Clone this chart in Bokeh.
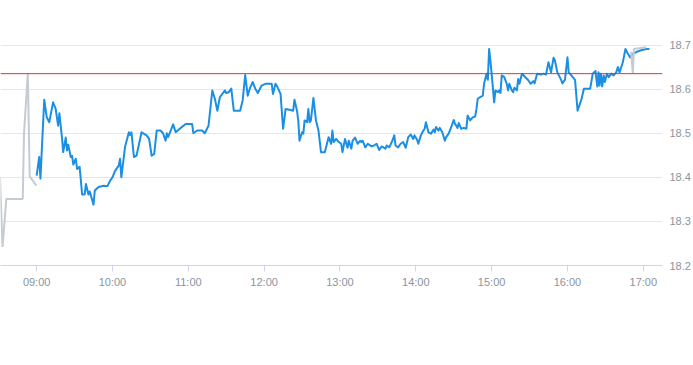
import pandas as pd
from bokeh.plotting import figure
from bokeh.models import Span, FixedTicker, PrintfTickFormatter, DatetimeTickFormatter, Range1d
from bokeh.embed import file_html
from bokeh.resources import INLINE

DAY = "2024-01-02 "

# ---- data ----
pre_times = ["08:31", "08:33", "08:36", "08:49", "08:50", "08:53", "08:54:30", "08:59:48"]
pre_prices = [18.400, 18.242, 18.351, 18.351, 18.499, 18.636, 18.402, 18.381]

session_times = [
    "09:00", "09:02", "09:03", "09:06", "09:08", "09:10", "09:13", "09:15", "09:17", "09:18",
    "09:20", "09:21", "09:23", "09:24", "09:25", "09:27", "09:28", "09:29", "09:31", "09:32",
    "09:34", "09:36", "09:38", "09:39", "09:41", "09:42", "09:45", "09:46", "09:49", "09:53",
    "09:56", "09:58", "10:00", "10:02", "10:05", "10:06", "10:07", "10:10", "10:13", "10:14",
    "10:15", "10:17", "10:19", "10:23", "10:27", "10:29", "10:31", "10:33", "10:35", "10:38",
    "10:40", "10:42", "10:43", "10:44", "10:46", "10:48", "10:50", "10:54", "10:58", "11:03",
    "11:04", "11:07", "11:11", "11:13", "11:16", "11:19", "11:21", "11:23", "11:25", "11:29",
    "11:30", "11:32", "11:34", "11:36", "11:41", "11:43", "11:45", "11:47", "11:49", "11:51",
    "11:53", "11:55", "11:58", "12:01", "12:06", "12:07", "12:09", "12:10", "12:13", "12:15",
    "12:17", "12:20", "12:23", "12:24", "12:26", "12:27", "12:28", "12:30", "12:31", "12:32",
    "12:34", "12:35", "12:36", "12:37", "12:39", "12:41", "12:43", "12:45", "12:48", "12:49",
    "12:51", "12:53", "12:54", "12:55", "12:57", "12:59", "13:01", "13:02", "13:04", "13:06",
    "13:07", "13:09", "13:10", "13:12", "13:14", "13:16", "13:17", "13:18", "13:20", "13:22",
    "13:25", "13:27", "13:29", "13:31", "13:33", "13:36", "13:37", "13:39", "13:41", "13:43",
    "13:44", "13:46", "13:48", "13:50", "13:52", "13:54", "13:56", "13:58", "13:59", "14:01",
    "14:02", "14:04", "14:06", "14:07", "14:08", "14:10", "14:12", "14:14", "14:15", "14:16",
    "14:18", "14:19", "14:21", "14:23", "14:24", "14:26", "14:28", "14:30", "14:31", "14:32",
    "14:33", "14:34", "14:36", "14:38", "14:40", "14:41", "14:43", "14:45", "14:47", "14:48",
    "14:49", "14:51", "14:53", "14:54", "14:56", "14:57", "14:58", "14:59", "15:00", "15:02",
    "15:03", "15:05", "15:06", "15:07", "15:08", "15:10", "15:12", "15:13", "15:14", "15:16",
    "15:17", "15:18", "15:20", "15:21", "15:22", "15:24", "15:26", "15:29", "15:31", "15:33",
    "15:34", "15:36", "15:39", "15:41", "15:43", "15:45", "15:47", "15:49", "15:50", "15:52",
    "15:55", "15:56", "15:58", "16:00", "16:01", "16:06", "16:08", "16:11", "16:13", "16:18",
    "16:20", "16:22:12", "16:23:36", "16:24:36", "16:25:24", "16:26:24", "16:27:30", "16:28:36",
    "16:29:36", "16:31:12", "16:32:42", "16:34:36", "16:36:30", "16:38:36", "16:39:54",
    "16:41:12", "16:43:48", "16:45:54", "16:47:48", "16:49:36", "16:51:42", "16:54:24",
    "16:58:18", "17:02:18", "17:04:54",
]
session_prices = [
    18.404, 18.446, 18.397, 18.576, 18.536, 18.525, 18.570, 18.556, 18.517, 18.545,
    18.491, 18.457, 18.490, 18.461, 18.474, 18.446, 18.449, 18.429, 18.442, 18.419,
    18.424, 18.361, 18.361, 18.385, 18.361, 18.368, 18.338, 18.370, 18.378, 18.381,
    18.380, 18.392, 18.400, 18.414, 18.427, 18.442, 18.400, 18.470, 18.502, 18.496,
    18.502, 18.446, 18.449, 18.502, 18.495, 18.487, 18.449, 18.453, 18.506, 18.506,
    18.500, 18.483, 18.500, 18.491, 18.505, 18.520, 18.502, 18.512, 18.521, 18.521,
    18.500, 18.506, 18.506, 18.500, 18.517, 18.597, 18.578, 18.551, 18.582, 18.597,
    18.591, 18.593, 18.601, 18.551, 18.551, 18.574, 18.632, 18.585, 18.604, 18.616,
    18.601, 18.591, 18.608, 18.612, 18.612, 18.589, 18.612, 18.608, 18.589, 18.510,
    18.555, 18.553, 18.551, 18.576, 18.551, 18.529, 18.483, 18.502, 18.499, 18.529,
    18.525, 18.555, 18.525, 18.529, 18.580, 18.529, 18.506, 18.457, 18.457, 18.468,
    18.491, 18.476, 18.506, 18.480, 18.487, 18.480, 18.476, 18.457, 18.487, 18.467,
    18.483, 18.465, 18.483, 18.490, 18.476, 18.483, 18.480, 18.483, 18.468, 18.476,
    18.470, 18.472, 18.476, 18.462, 18.470, 18.465, 18.472, 18.468, 18.480, 18.495,
    18.472, 18.468, 18.476, 18.480, 18.467, 18.491, 18.497, 18.487, 18.495, 18.485,
    18.476, 18.495, 18.506, 18.510, 18.525, 18.502, 18.499, 18.508, 18.502, 18.514,
    18.506, 18.512, 18.502, 18.483, 18.491, 18.499, 18.514, 18.530, 18.521, 18.517,
    18.512, 18.523, 18.510, 18.512, 18.510, 18.540, 18.529, 18.536, 18.538, 18.555,
    18.578, 18.582, 18.585, 18.612, 18.635, 18.621, 18.691, 18.665, 18.635, 18.570,
    18.597, 18.593, 18.597, 18.591, 18.631, 18.627, 18.612, 18.597, 18.612, 18.597,
    18.593, 18.603, 18.597, 18.623, 18.612, 18.635, 18.629, 18.620, 18.612, 18.618,
    18.613, 18.635, 18.633, 18.635, 18.633, 18.661, 18.638, 18.671, 18.666, 18.638,
    18.621, 18.613, 18.621, 18.672, 18.638, 18.621, 18.551, 18.576, 18.601, 18.601,
    18.635, 18.641, 18.606, 18.638, 18.608, 18.635, 18.606, 18.631,
    18.616, 18.635, 18.627, 18.635, 18.631, 18.638, 18.650,
    18.638, 18.661, 18.691, 18.680, 18.672, 18.680, 18.684,
    18.688, 18.691, 18.691,
]

post_times = ["16:50:24", "16:51:42", "16:52:36", "17:02:18"]
post_prices = [18.685, 18.635, 18.691, 18.695]

prev_close = 18.635

y_ticks = [18.2, 18.3, 18.4, 18.5, 18.6, 18.7]
hour_labels = ["09:00", "10:00", "11:00", "12:00", "13:00", "14:00", "15:00", "16:00", "17:00"]


def ts(lst):
    return [pd.Timestamp(DAY + s) for s in lst]


def ms(t):
    return t.value // 10**6


view_start = pd.Timestamp(DAY + "08:31:24")
view_end = pd.Timestamp(DAY + "17:15:12")

p = figure(
    width=693, height=357,
    output_backend="svg", toolbar_location=None,
    x_axis_type="datetime", y_axis_location="right",
    x_range=Range1d(view_start, view_end),
    y_range=Range1d(18.2, 18.2 + 265 / 441),
    min_border_left=0, min_border_top=0, min_border_right=30, min_border_bottom=92,
    background_fill_color="white", border_fill_color="white",
)
p.outline_line_color = None

label_color = "#8a949e"
font = "Liberation Sans"

p.xgrid.visible = False
p.ygrid.grid_line_color = "#e6e6e6"
p.ygrid.grid_line_width = 1

xa = p.xaxis[0]
xa.ticker = FixedTicker(ticks=[ms(t) for t in ts(hour_labels)])
xa.formatter = DatetimeTickFormatter(hours="%H:%M", minutes="%H:%M", hourmin="%H:%M", days="%H:%M")
xa.axis_line_color = "#ccd6eb"
xa.major_tick_line_color = "#ccd6eb"
xa.major_tick_out = 6
xa.major_tick_in = 0
xa.minor_tick_line_color = None
xa.major_label_standoff = 4
xa.major_label_text_color = label_color
xa.major_label_text_font = font
xa.major_label_text_font_size = "11px"

ya = p.yaxis[0]
ya.ticker = FixedTicker(ticks=y_ticks)
ya.formatter = PrintfTickFormatter(format="%.1f")
ya.axis_line_color = None
ya.major_tick_line_color = None
ya.minor_tick_line_color = None
ya.major_tick_out = 0
ya.major_tick_in = 0
ya.major_label_standoff = 7
ya.major_label_text_color = label_color
ya.major_label_text_font = font
ya.major_label_text_font_size = "11px"

p.line(ts(pre_times), pre_prices, line_color="#c3ccd4", line_width=2)
p.line(ts(session_times), session_prices, line_color="#1a8fe3", line_width=2, line_join="round")
p.line(ts(post_times), post_prices, line_color="#c3ccd4", line_width=2)

p.add_layout(Span(location=prev_close, dimension="width", line_color="#d9363e", line_width=1))

open("out.html", "w").write(file_html(p, INLINE))
